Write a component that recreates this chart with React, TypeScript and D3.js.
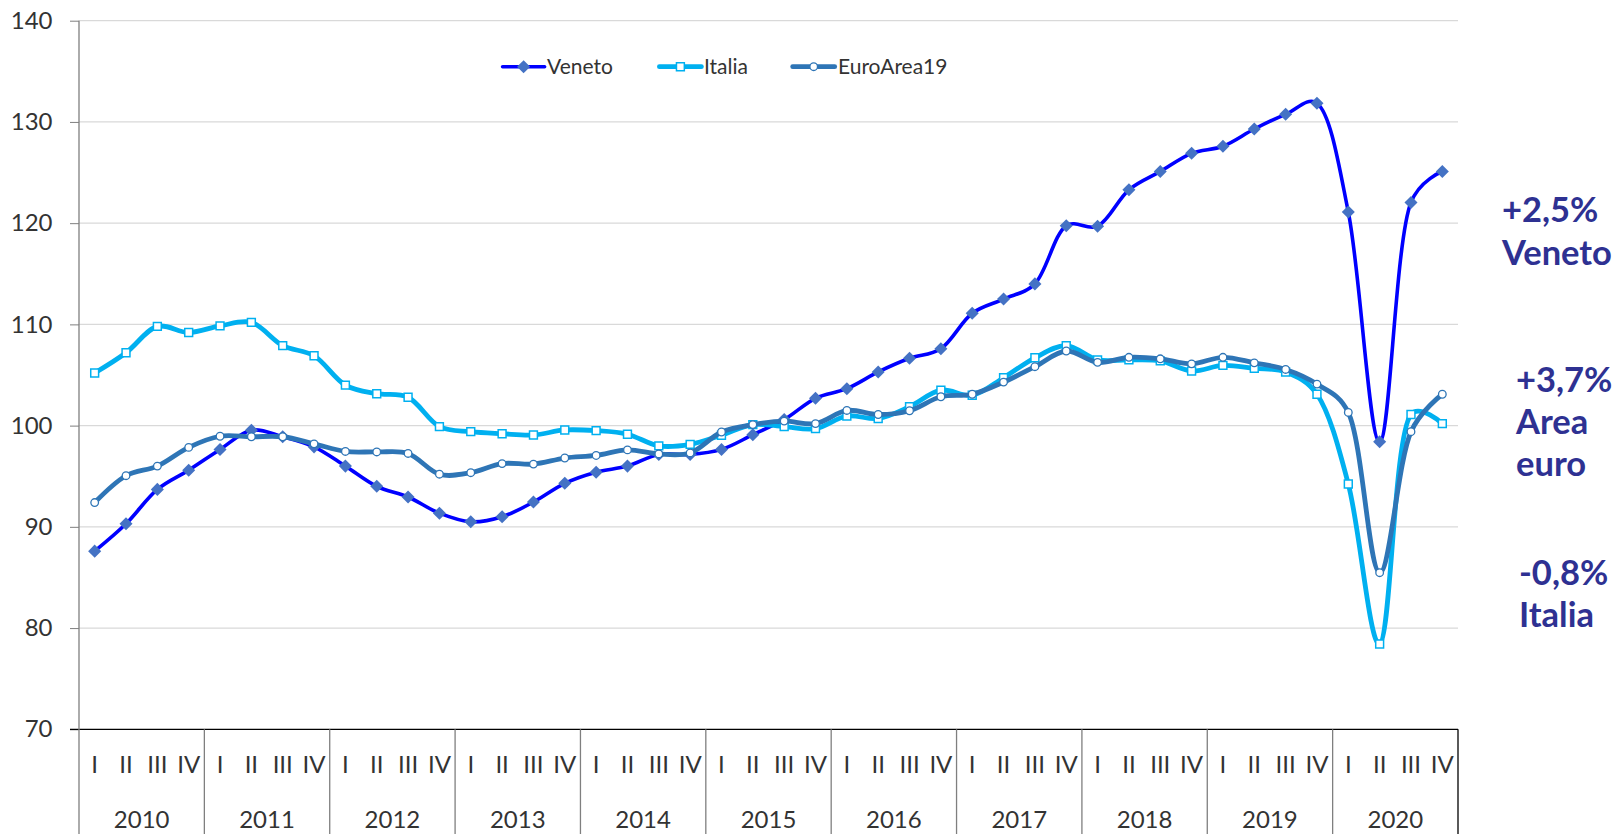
import React, { useEffect, useRef } from 'react';
import * as d3 from 'd3';

const width = 1624;
const height = 834;
const margin = { top: 20.7, left: 79, right: 1458, bottom: 729.3 };

const blue = '#0000FF';
const diamondFill = '#4472C4';
const cyan = '#00B0F0';
const steel = '#2E75B6';
const noteColor = '#2E3192';
const grid = '#D9D9D9';
const font = 'Lato, Carlito, Calibri, sans-serif';

const years = ['2010', '2011', '2012', '2013', '2014', '2015', '2016', '2017', '2018', '2019', '2020'];
const quarters = ['I', 'II', 'III', 'IV'];
const yTicks = [70, 80, 90, 100, 110, 120, 130, 140];

const veneto = [
  87.6, 90.3, 93.7, 95.6,
  97.65, 99.55, 98.9, 97.9,
  96.0, 94.0, 92.95, 91.35,
  90.5, 91.0, 92.45, 94.3,
  95.4, 96.0, 97.15, 97.15,
  97.65, 99.1, 100.6, 102.7,
  103.65, 105.3, 106.65, 107.6,
  111.1, 112.5, 114.0, 119.75,
  119.7, 123.3, 125.1, 126.9,
  127.6, 129.3, 130.75, 131.85,
  121.1, 98.4, 122.05, 125.1,
];
const italia = [
  105.2, 107.2, 109.8, 109.2,
  109.85, 110.2, 107.9, 106.9,
  104.0, 103.15, 102.8, 99.9,
  99.4, 99.2, 99.07, 99.57,
  99.5, 99.15, 98.0, 98.15,
  99.05, 100.1, 99.9, 99.7,
  100.95, 100.7, 101.87, 103.5,
  103.0, 104.73, 106.7, 107.9,
  106.5, 106.5, 106.4, 105.4,
  105.95, 105.65, 105.3, 103.1,
  94.23, 78.43, 101.1, 100.2,
];
const euroArea = [
  92.4, 95.05, 96.0, 97.85,
  98.95, 98.9, 98.9, 98.2,
  97.45, 97.4, 97.25, 95.2,
  95.35, 96.25, 96.2, 96.8,
  97.05, 97.6, 97.2, 97.3,
  99.37, 100.1, 100.45, 100.2,
  101.5, 101.1, 101.47, 102.85,
  103.1, 104.3, 105.82, 107.37,
  106.25, 106.75, 106.6, 106.1,
  106.75, 106.2, 105.55, 104.1,
  101.3, 85.47, 99.4, 103.1,
];

const categories = years.flatMap(y => quarters.map(q => `${y}-${q}`));

const xScale = d3.scaleBand().domain(categories).range([margin.left, margin.right]);
const yearScale = d3.scaleBand().domain(years).range([margin.left, margin.right]);
const yScale = d3.scaleLinear().domain([70, 140]).range([margin.bottom, margin.top]);
const cx = (i) => xScale(categories[i]) + xScale.bandwidth() / 2;

// smoothed like excel's "smooth line"
const line = d3.line()
  .x((d, i) => cx(i))
  .y(d => yScale(d))
  .curve(d3.curveCatmullRom.alpha(0.35));

const diamond = d3.symbol(d3.symbolSquare, 85)();
const square = d3.symbol(d3.symbolSquare, 62)();

const series = [
  { name: 'Veneto', values: veneto, color: blue, width: 3.6, marker: 'diamond' },
  { name: 'Italia', values: italia, color: cyan, width: 4.8, marker: 'square' },
  { name: 'EuroArea19', values: euroArea, color: steel, width: 4.8, marker: 'circle' },
];

// legend positions
const legend = [
  { x: 502.6, textX: 547 },
  { x: 659.4, textX: 704 },
  { x: 792.7, textX: 838 },
];

const notes = [
  { x: 1502, lines: [['+2,5%', 222], ['Veneto', 265]] },
  { x: 1516, lines: [['+3,7%', 392], ['Area', 434], ['euro', 476]] },
  { x: 1519, lines: [['-0,8%', 585], ['Italia', 627]] },
];

function Marker({ type, x, y }) {
  if (type === 'diamond')
    return <path d={diamond} transform={`translate(${x},${y}) rotate(45)`} fill={diamondFill} />;
  if (type === 'square')
    return <path d={square} transform={`translate(${x},${y})`} fill="#fff" stroke={cyan} strokeWidth={1.5} />;
  return <circle cx={x} cy={y} r={3.8} fill="#fff" stroke={steel} strokeWidth={1.3} />;
}

export default function App() {
  const yAxisRef = useRef(null);

  useEffect(() => {
    document.body.style.margin = '0';
    const axis = d3.axisLeft(yScale).tickValues(yTicks).tickSize(9).tickSizeOuter(0).tickPadding(17.5);
    const g = d3.select(yAxisRef.current).call(axis);
    g.select('.domain').remove();
    g.selectAll('.tick line').attr('stroke', '#7F7F7F');
    g.selectAll('.tick text')
      .attr('font-family', font)
      .attr('font-size', 24)
      .attr('fill', '#333');
  }, []);

  return (
    <svg width={width} height={height} style={{ position: 'absolute', left: 0, top: 0, background: '#fff' }}>
      {yTicks.filter(t => t > 70).map(t => (
        <line key={t} x1={margin.left} x2={margin.right} y1={yScale(t)} y2={yScale(t)} stroke={grid} strokeWidth={1.2} />
      ))}

      <g ref={yAxisRef} transform={`translate(${margin.left},0)`} />

      {/* category axis */}
      <line x1={70} x2={margin.right} y1={margin.bottom} y2={margin.bottom} stroke="#000" strokeWidth={1.3} />
      {years.map((y, i) => (
        <line key={y} x1={yearScale(y)} x2={yearScale(y)} y1={i === 0 ? margin.top : margin.bottom} y2={height}
          stroke="#7F7F7F" strokeWidth={1.3} />
      ))}
      <line x1={margin.right} x2={margin.right} y1={margin.bottom} y2={height} stroke="#000" strokeWidth={1.3} />
      {categories.map((c, i) => (
        <text key={c} x={cx(i)} y={773} textAnchor="middle" fontFamily={font} fontSize={24} fill="#333">
          {quarters[i % 4]}
        </text>
      ))}
      {years.map(y => (
        <text key={y} x={yearScale(y) + yearScale.bandwidth() / 2} y={828} textAnchor="middle"
          fontFamily={font} fontSize={24} fill="#333">{y}</text>
      ))}

      {series.map(s => (
        <g key={s.name}>
          <path d={line(s.values)} fill="none" stroke={s.color} strokeWidth={s.width} strokeLinejoin="round" />
          {s.values.map((v, i) => <Marker key={i} type={s.marker} x={cx(i)} y={yScale(v)} />)}
        </g>
      ))}

      {series.map((s, i) => (
        <g key={s.name}>
          <line x1={legend[i].x} x2={legend[i].x + 42} y1={66.7} y2={66.7} stroke={s.color} strokeWidth={s.width}
            strokeLinecap="round" />
          <Marker type={s.marker} x={legend[i].x + 21} y={66.7} />
          <text x={legend[i].textX} y={66.7} dy="0.35em" fontFamily={font} fontSize={21} fill="#333">{s.name}</text>
        </g>
      ))}

      {notes.map((n, i) => (
        <text key={i} fontFamily={font} fontWeight="bold" fontSize={34.5} fill={noteColor}>
          {n.lines.map(([t, y]) => <tspan key={t} x={n.x} y={y}>{t}</tspan>)}
        </text>
      ))}
    </svg>
  );
}
